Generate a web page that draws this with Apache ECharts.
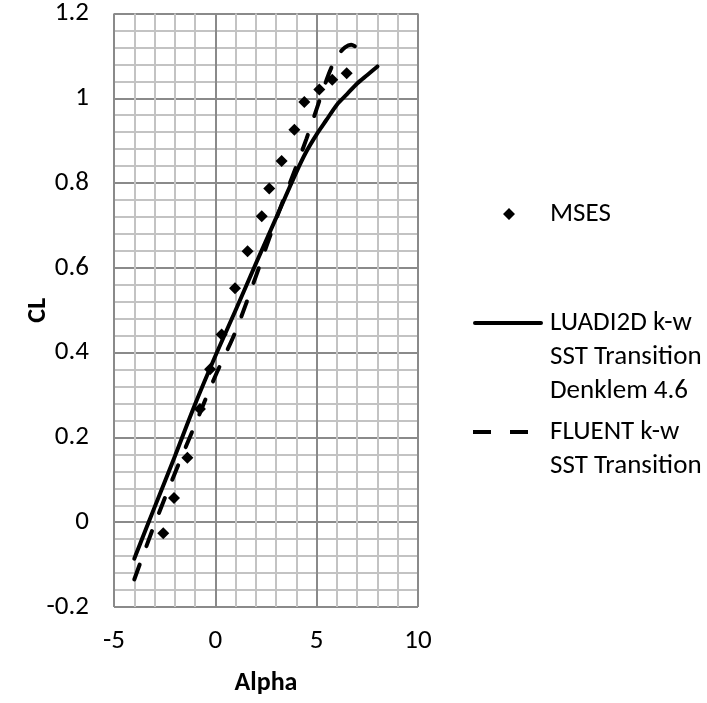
<!DOCTYPE html>
<html>
<head>
<meta charset="utf-8">
<script src="https://cdn.jsdelivr.net/npm/echarts@6/dist/echarts.min.js"></script>
<style>html,body{margin:0;padding:0;background:#fff}#c{width:707px;height:703px}</style>
</head>
<body>
<div id="c"></div>
<script>
// MSES (markers)
const msesAlpha = [-2.57, -2.04, -1.38, -0.76, -0.26, 0.31, 0.97, 1.59, 2.29, 2.66, 3.27, 3.9, 4.39, 5.13, 5.77, 6.48];
const msesCL = [-0.026, 0.057, 0.152, 0.267, 0.361, 0.443, 0.552, 0.639, 0.722, 0.787, 0.852, 0.926, 0.991, 1.021, 1.044, 1.059];
// LUADI2D k-w SST Transition Denklem 4.6 (solid)
const luadiAlpha = [-4, -3, -2, -1, 0, 1, 2, 3, 4, 4.5, 5, 5.5, 6, 6.5, 7, 7.5, 8];
const luadiCL = [-0.086, 0.035, 0.155, 0.278, 0.392, 0.5, 0.61, 0.718, 0.826, 0.875, 0.915, 0.95, 0.985, 1.01, 1.035, 1.055, 1.075];
// FLUENT k-w SST Transition (dashed)
const fluentAlpha = [-4, -3, -2, -1, 0, 1, 2, 3, 4, 4.5, 5, 5.5, 5.8, 6.1, 6.4, 6.7, 7.05];
const fluentCL = [-0.135, -0.005, 0.115, 0.23, 0.345, 0.45, 0.58, 0.715, 0.84, 0.905, 0.975, 1.045, 1.08, 1.105, 1.12, 1.126, 1.118];
// axes
const xTicks = [-5, 0, 5, 10];
const yTicks = [-0.2, 0, 0.2, 0.4, 0.6, 0.8, 1, 1.2];
const names = ['MSES', 'LUADI2D k-w\nSST Transition\nDenklem 4.6', 'FLUENT k-w\nSST Transition'];

const FONT = 'Carlito, Lato, sans-serif';
const FS = 27;
const zip = (a, b) => a.map((v, i) => [v, b[i]]);

const chart = echarts.init(document.getElementById('c'), null, {renderer: 'canvas'});
const majorColor = '#8a8a8a', minorColor = '#c3c3c3';
const legendBase = {
  orient: 'vertical', left: 473, padding: 0, itemWidth: 72, itemGap: 0,
  textStyle: {fontFamily: FONT, fontSize: FS, color: '#000', lineHeight: 34},
  selectedMode: false
};
chart.setOption({
  animation: false,
  backgroundColor: '#fff',
  grid: {left: 114, top: 11, width: 304, height: 596, containLabel: false},
  xAxis: {
    type: 'value', min: xTicks[0], max: xTicks[xTicks.length - 1], interval: 5,
    name: 'Alpha', nameLocation: 'middle', nameGap: 63,
    nameTextStyle: {fontFamily: FONT, fontSize: 26, fontWeight: 'bold', color: '#000'},
    axisLine: {show: false}, axisTick: {show: false},
    axisLabel: {fontFamily: FONT, fontSize: FS, color: '#000', margin: 21},
    splitLine: {show: true, lineStyle: {color: majorColor, width: 2}},
    minorTick: {show: false, splitNumber: 5},
    minorSplitLine: {show: true, lineStyle: {color: minorColor, width: 2}}
  },
  yAxis: {
    type: 'value', min: yTicks[0], max: yTicks[yTicks.length - 1], interval: 0.2,
    name: 'CL', nameLocation: 'middle', nameGap: 63, nameRotate: 90,
    nameMoveOverlap: false,
    nameTextStyle: {fontFamily: FONT, fontSize: 26, fontWeight: 'bold', color: '#000'},
    axisLine: {show: false}, axisTick: {show: false},
    axisLabel: {fontFamily: FONT, fontSize: FS, color: '#000', margin: 25,
      formatter: v => String(Math.round(v * 10) / 10)},
    splitLine: {show: true, lineStyle: {color: majorColor, width: 2}},
    minorTick: {show: false, splitNumber: 5},
    minorSplitLine: {show: true, lineStyle: {color: minorColor, width: 2}}
  },
  legend: [
    Object.assign({}, legendBase, {top: 197, itemHeight: 12, data: [names[0]],
      icon: 'path://M36,0L42,6L36,12L30,6Z M0,6L72,6'}),
    Object.assign({}, legendBase, {top: 238, itemHeight: 4, data: [names[1]],
      icon: 'path://M2,0H68A2,2 0 0 1 68,4H2A2,2 0 0 1 2,0Z M72,0V4',
      formatter: n => '\n\n' + n}),
    Object.assign({}, legendBase, {top: 381, itemHeight: 4, data: [names[2]],
      icon: 'path://M0,0H18V4H0Z M37,0H55V4H37Z M72,0V4',
      formatter: n => '\n' + n})
  ],
  series: [
    {
      name: names[0], type: 'scatter', data: zip(msesAlpha, msesCL),
      symbol: 'diamond', symbolSize: 12, itemStyle: {color: '#000', opacity: 1}, z: 3
    },
    {
      name: names[1], type: 'line', data: zip(luadiAlpha, luadiCL),
      symbol: 'none', smooth: 0.3,
      lineStyle: {color: '#000', width: 4, type: 'solid', cap: 'round'},
      itemStyle: {color: '#000'}, z: 4
    },
    {
      name: names[2], type: 'line', data: zip(fluentAlpha, fluentCL),
      symbol: 'none', smooth: 0.3,
      lineStyle: {color: '#000', width: 4, type: [16, 19.5], cap: 'round'},
      itemStyle: {color: '#000'}, z: 4
    }
  ]
});
</script>
</body>
</html>
